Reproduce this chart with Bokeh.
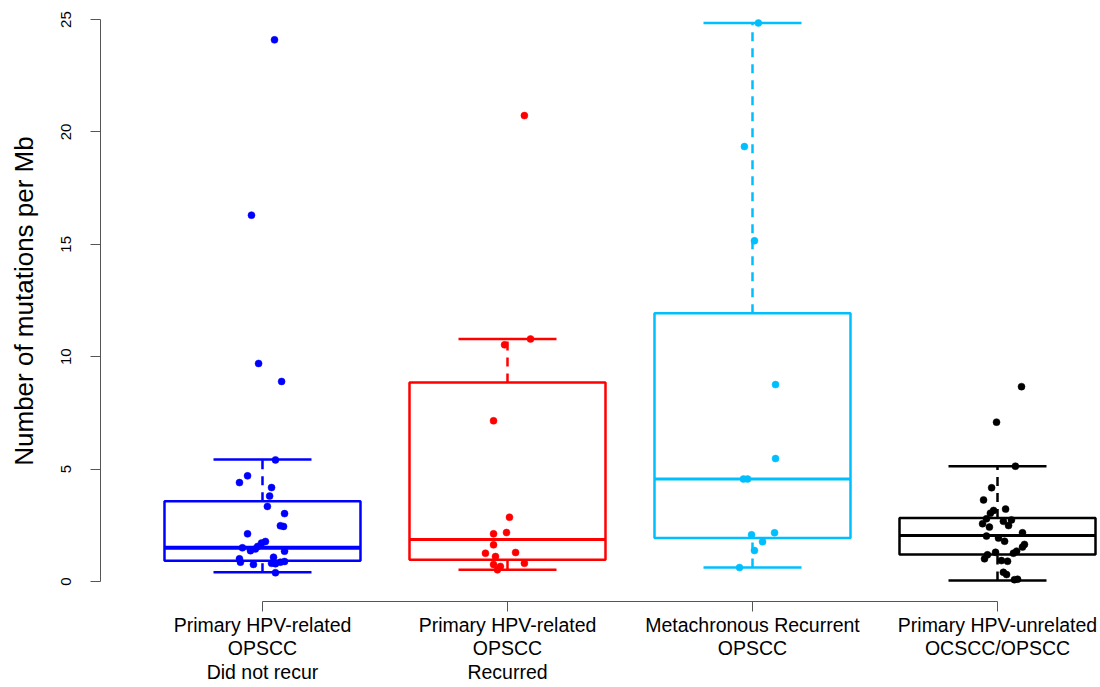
from bokeh.plotting import figure
from bokeh.models import FixedTicker, ColumnDataSource
from bokeh.embed import file_html
from bokeh.resources import INLINE

# ---- data ----
categories = ["Primary HPV-related\nOPSCC\nDid not recur",
              "Primary HPV-related\nOPSCC\nRecurred",
              "Metachronous Recurrent\nOPSCC",
              "Primary HPV-unrelated\nOCSCC/OPSCC"]
colors = ["#0000FF", "#FF0000", "#00BFFF", "#000000"]

whisker_lo = [0.41, 0.52, 0.62, 0.04]
q1 = [0.92, 0.97, 1.93, 1.20]
median = [1.50, 1.87, 4.56, 2.05]
q3 = [3.57, 8.85, 11.94, 2.82]
whisker_hi = [5.43, 10.79, 24.85, 5.13]
median_width = [4, 3, 3, 3]

g1_vals = [24.1, 16.3, 9.7, 8.9, 5.41, 4.70, 4.40, 4.18, 3.80, 3.34, 3.02, 2.48, 2.45, 2.12,
           1.78, 1.71, 1.56, 1.45, 1.37, 1.50, 1.35, 1.01, 0.86, 0.76, 1.08, 0.81, 0.79,
           0.86, 0.89, 0.39]
g1_jit = [0.049, -0.045, -0.016, 0.078, 0.053, -0.061, -0.094, 0.037, 0.029, 0.020, 0.090,
          0.073, 0.086, -0.061, 0.012, -0.004, -0.020, -0.029, -0.049, -0.082, 0.090,
          -0.094, -0.090, -0.037, 0.045, 0.037, 0.053, 0.073, 0.090, 0.053]

g2_vals = [20.73, 10.79, 10.53, 7.15, 2.86, 2.18, 2.12, 1.63, 1.29, 1.26, 1.11, 0.81, 0.76,
           0.67, 0.52]
g2_jit = [0.069, 0.094, -0.012, -0.057, 0.008, -0.004, -0.057, -0.057, 0.033, -0.090,
          -0.049, 0.069, -0.057, -0.029, -0.041]

g3_vals = [24.85, 19.35, 15.16, 8.76, 5.47, 4.56, 4.56, 2.17, 2.08, 1.77, 1.38, 0.62]
g3_jit = [0.024, -0.033, 0.008, 0.094, 0.094, -0.037, -0.020, 0.090, -0.004, 0.041,
          0.008, -0.053]

g4_vals = [8.67, 7.09, 5.13, 4.17, 3.63, 3.16, 3.04, 3.22, 2.79, 2.74, 2.68, 2.57, 2.42,
           2.49, 2.17, 2.02, 1.93, 1.79, 1.65, 1.53, 1.30, 1.35, 1.26, 1.19, 1.01, 0.93,
           0.90, 0.41, 0.31, 0.08, 0.10]
g4_jit = [0.098, -0.004, 0.073, -0.024, -0.057, -0.016, -0.029, 0.033, -0.045, 0.057,
          0.024, -0.061, -0.033, 0.045, 0.102, -0.045, 0.004, 0.029, 0.110, 0.102,
          -0.008, 0.078, 0.065, -0.041, -0.053, 0.016, 0.041, 0.024, 0.037, 0.069, 0.082]

y_ticks = [0, 5, 10, 15, 20, 25]
y_label = "Number of mutations per Mb"

groups_vals = [g1_vals, g2_vals, g3_vals, g4_vals]
groups_jit = [g1_jit, g2_jit, g3_jit, g4_jit]

BOX_HALF = 0.4
CAP_HALF = 0.2
FONT = "Liberation Sans"

p = figure(width=1100, height=687, output_backend="svg", toolbar_location=None,
           x_range=(0.3388, 4.4204), y_range=(-0.89, 25.85),
           min_border_left=100, min_border_right=0, min_border_top=0, min_border_bottom=86)
p.outline_line_color = None
p.xgrid.visible = False
p.ygrid.visible = False
p.background_fill_color = "white"
p.border_fill_color = "white"

xs = [i + 1 for i in range(len(categories))]

for i, x in enumerate(xs):
    c = colors[i]
    # whiskers (dashed)
    p.segment(x0=[x, x], y0=[q3[i], whisker_lo[i]], x1=[x, x], y1=[whisker_hi[i], q1[i]],
              line_color=c, line_width=2.5, line_dash="9 7")
    # caps
    p.segment(x0=[x - CAP_HALF, x - CAP_HALF], y0=[whisker_hi[i], whisker_lo[i]],
              x1=[x + CAP_HALF, x + CAP_HALF], y1=[whisker_hi[i], whisker_lo[i]],
              line_color=c, line_width=2.5)
    # box
    p.quad(left=[x - BOX_HALF], right=[x + BOX_HALF], bottom=[q1[i]], top=[q3[i]],
           fill_color=None, line_color=c, line_width=2.5)
    # median
    p.segment(x0=[x - BOX_HALF], y0=[median[i]], x1=[x + BOX_HALF], y1=[median[i]],
              line_color=c, line_width=median_width[i])
    # points
    src = ColumnDataSource(dict(x=[x + j for j in groups_jit[i]], y=groups_vals[i]))
    p.scatter("x", "y", source=src, size=7, fill_color=c, line_color=c, line_width=0.5)

# x axis
xa = p.xaxis[0]
xa.ticker = FixedTicker(ticks=xs)
xa.major_label_overrides = {x: categories[i] for i, x in enumerate(xs)}
xa.bounds = (1, 4)
xa.minor_tick_line_color = None
xa.major_tick_in = 0
xa.major_tick_out = 10
xa.major_label_standoff = 2
xa.major_label_text_font = FONT
xa.major_label_text_font_size = "19.5px"
xa.major_label_text_color = "#000000"
xa.major_label_text_line_height = 1.08
xa.axis_line_color = "#555555"
xa.major_tick_line_color = "#555555"

# y axis
ya = p.yaxis[0]
ya.ticker = FixedTicker(ticks=y_ticks)
ya.bounds = (0, 25)
ya.minor_tick_line_color = None
ya.major_tick_in = 0
ya.major_tick_out = 10
ya.major_label_orientation = "vertical"
ya.major_label_standoff = 19
ya.major_label_text_font = FONT
ya.major_label_text_font_size = "15px"
ya.major_label_text_color = "#000000"
ya.axis_line_color = "#555555"
ya.major_tick_line_color = "#555555"
ya.axis_label = y_label
ya.axis_label_text_font = FONT
ya.axis_label_text_font_size = "26px"
ya.axis_label_text_font_style = "normal"
ya.axis_label_text_color = "#000000"
ya.axis_label_standoff = 20

open("out.html", "w").write(file_html(p, INLINE))
